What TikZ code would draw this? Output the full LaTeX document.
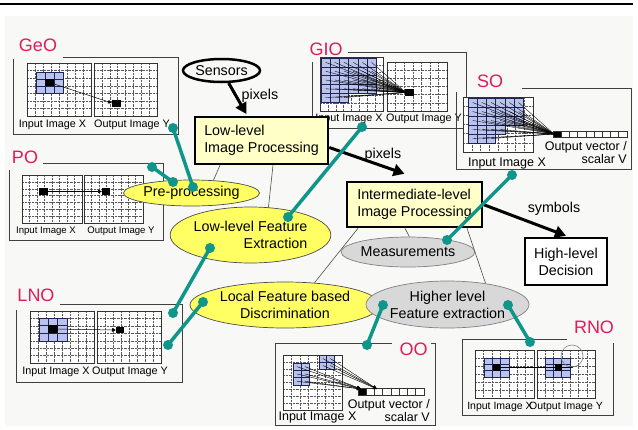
\documentclass[tikz,border=0pt]{standalone}
\usepackage{fontspec}
\setmainfont{Liberation Sans}
\usetikzlibrary{shapes.geometric,arrows.meta}
\definecolor{tealc}{RGB}{15,150,138}
\definecolor{magc}{RGB}{225,25,95}
\definecolor{ylwc}{RGB}{255,255,100}
\definecolor{pylc}{RGB}{255,255,200}
\definecolor{gryc}{RGB}{216,216,216}
\definecolor{bgc}{RGB}{248,248,246}
\definecolor{cellc}{RGB}{185,195,235}
\definecolor{navyc}{RGB}{30,35,90}
\tikzset{
 gline/.style={black!65, line width=0.4pt, densely dotted},
 gframe/.style={black!80, line width=0.6pt},
 frameline/.style={black!75, line width=0.8pt},
 treeline/.style={black!70, line width=0.6pt},
 bigarrow/.style={line width=3pt, -{Triangle[length=11pt,width=12pt]}},
 smallarrow/.style={line width=0.5pt, -{Triangle[length=4pt,width=3.5pt]}},
 conv/.style={line width=0.35pt, black},
 pbox/.style={rectangle, draw, line width=2.5pt, fill=pylc, align=left, inner sep=0pt, font=\fontsize{14.3}{17}\selectfont},
 yell/.style={ellipse, draw=black!70, line width=0.7pt, fill=ylwc, inner sep=0pt, align=center, font=\fontsize{14.3}{17}\selectfont},
 grayell/.style={yell, fill=gryc, draw=black!50},
 lbl/.style={inner sep=0pt, font=\fontsize{14.3}{17}\selectfont},
 smalltxt/.style={inner sep=0pt, font=\fontsize{#1}{#1}\selectfont},
 smalltxt/.default=10.8,
 plabel/.style={inner sep=0pt, text=magc, font=\fontsize{18}{20}\selectfont},
 tline/.style={tealc, line width=3.5pt},
}
\newcommand{\pxgrid}[6]{%
  \fill[white] (#1,#2) rectangle (#3,#4);
  \pgfmathsetmacro\grdx{(#3-#1)/#5}%
  \pgfmathsetmacro\grdy{(#4-#2)/#6}%
  \pgfmathtruncatemacro\grnx{#5-1}%
  \pgfmathtruncatemacro\grny{#6-1}%
  \foreach \k in {1,...,\grnx}{\draw[gline] ({#1+\k*\grdx},#2) -- ({#1+\k*\grdx},#4);}%
  \foreach \k in {1,...,\grny}{\draw[gline] (#1,{#2+\k*\grdy}) -- (#3,{#2+\k*\grdy});}%
  \draw[gframe] (#1,#2) rectangle (#3,#4);
}
\newcommand{\bcell}[4]{\filldraw[fill=cellc, draw=navyc, line width=0.6pt] ({#1},{#2}) rectangle ++(#3,#4);}
\newcommand{\ovec}[5]{%
  \fill[white] (#1,#2) rectangle (#3,#4);
  \pgfmathsetmacro\grdx{(#3-#1)/#5}%
  \pgfmathtruncatemacro\grnx{#5-1}%
  \fill[black] (#1,#2) rectangle ({#1+\grdx},#4);
  \foreach \k in {1,...,\grnx}{\draw[gframe] ({#1+\k*\grdx},#2) -- ({#1+\k*\grdx},#4);}%
  \draw[gframe] (#1,#2) rectangle (#3,#4);
}
\begin{document}
\begin{tikzpicture}[x=1pt,y=-1pt]
\useasboundingbox (0,0) rectangle (638,429);
\fill[white] (0,0) rectangle (638,429);
\fill[bgc] (5,16) rectangle (633,426);
\draw[line width=1.5pt] (0,4) -- (633,4);

% ---------- GeO panel
\node[plabel] (geo) at (38,45) {GeO};
\draw[frameline] (63,57) -- (178,57) -- (178,134) -- (13,134) -- (13,59);
\pxgrid{27}{63}{91}{116}{8}{7}
\pxgrid{94}{63}{157}{116}{8}{7}
\foreach \i in {0,1,2}{\foreach \j in {0,1,2}{\bcell{36+\i*9}{72+\j*7}{9}{7}}}
\fill (45,79) rectangle (54,86);
\fill (112,100) rectangle (121,107);
\draw[smallarrow] (49.5,82.5) -- (112,103);
\node[smalltxt] (geoi) at (52.5,125) {Input Image X};
\node[smalltxt] (geoo) at (132,125) {Output Image Y};

% ---------- PO panel
\node[plabel] (po) at (25,157) {PO};
\draw[frameline] (43,163) -- (163,163) -- (163,240) -- (9,240) -- (9,170);
\pxgrid{22}{175}{82}{223}{8}{7}
\pxgrid{84}{175}{143}{223}{8}{7}
\fill (39,188) rectangle (48,195);
\fill (102,188) rectangle (110,195);
\draw[smallarrow] (43.5,191.5) -- (102,191.5);
\node[smalltxt=9.6] (poi) at (46,231) {Input Image X};
\node[smalltxt=9.6] (poo) at (121,231) {Output Image Y};

% ---------- LNO panel
\node[plabel] (lno) at (36,295) {LNO};
\draw[frameline] (60,304) -- (182,304) -- (182,382) -- (16,382) -- (16,310);
\pxgrid{30}{311}{94}{363}{8}{7}
\pxgrid{97}{311}{161}{363}{8}{7}
\foreach \i in {0,1,2}{\foreach \j in {0,1,2}{\bcell{39+\i*9.3}{318+\j*7.7}{9.3}{7.7}}}
\fill (48,325) rectangle (58,333);
\fill (116,327) rectangle (124,333);
\draw[smallarrow] (53,329) -- (116,330);
\node[smalltxt] (lnoi) at (56,372) {Input Image X};
\node[smalltxt] (lnoo) at (130,372) {Output Image Y};

% ---------- GIO panel
\node[plabel] (gio) at (326,49) {GIO};
\draw[frameline] (348,52) -- (466,52) -- (466,128) -- (312,128) -- (312,62);
\pxgrid{320}{57}{383}{111}{8}{7}
\pxgrid{387}{62}{447}{111}{7}{6}
\foreach \j/\n in {0/6,1/6,2/6,3/6,4/3}{\foreach \i in {1,...,\n}{\bcell{321+(\i-1)*9.2}{58+\j*8.8}{9.2}{8.8}}}
\fill (405,89) rectangle (414,96);
\foreach \j/\n in {0/6,1/6,2/6,3/6,4/3}{\foreach \i in {1,...,\n}{\draw[conv] ({321+(\i-0.5)*9.2},{58+(\j+0.5)*8.8}) -- (406,92.5);}}
\node[smalltxt] (gioi) at (349,119) {Input Image X};
\node[smalltxt] (gioo) at (424,119) {Output Image Y};

% ---------- SO panel
\node[plabel] (so) at (490,81) {SO};
\draw[frameline] (522,88) -- (631,88) -- (631,169) -- (456,169) -- (456,92);
\pxgrid{463}{97}{533}{152}{8}{6}
\foreach \j/\n in {0/6,1/6,2/6,3/4,4/3}{\foreach \i in {1,...,\n}{\bcell{468+(\i-1)*9.2}{98+\j*9}{9.2}{9}}}
\ovec{553}{131}{627}{137}{9}
\foreach \j/\n in {0/6,1/6,2/6,3/4,4/3}{\foreach \i in {1,...,\n}{\draw[conv] ({468+(\i-0.5)*9.2},{98+(\j+0.5)*9}) -- (554,134);}}
\node[smalltxt=12.5, anchor=east] (sov1) at (627,147) {Output vector /};
\node[smalltxt=12.5, anchor=east] (sov2) at (627,159) {scalar V};
\node[smalltxt=12.5] (soi) at (507,163) {Input Image X};

% ---------- OO panel
\node[plabel] (oo) at (413.5,349) {OO};
\draw[frameline] (392,343) -- (275,343) -- (275,425) -- (435,425) -- (435,343) -- (431,343);
\pxgrid{283}{355}{342}{410}{7}{8}
\foreach \i in {0,1}{\foreach \j in {0,1}{\bcell{319+\i*7.5}{355+\j*7}{7.5}{7}}}
\foreach \i in {0,1}{\foreach \j in {0,1,2}{\bcell{293+\i*8}{363+\j*7.3}{8}{7.3}}}
\ovec{358}{388}{424}{395}{8}
\foreach \i in {0,1}{\foreach \j in {0,1}{\draw[smallarrow, line width=0.4pt] ({319+(\i+0.5)*7.5},{355+(\j+0.5)*7}) -- (377,389);}}
\foreach \i in {0,1}{\foreach \j in {0,1,2}{\draw[smallarrow, line width=0.4pt] ({293+(\i+0.5)*8},{363+(\j+0.5)*7.3}) -- (361,389);}}
\node[smalltxt=12.5, anchor=east] (oov1) at (430,405) {Output vector /};
\node[smalltxt=12.5, anchor=east] (oov2) at (430,417) {scalar V};
\node[smalltxt=12.5] (ooi) at (317.5,417) {Input Image X};

% ---------- RNO panel
\node[plabel] (rno) at (594,327) {RNO};
\draw[frameline] (567,339) -- (462,339) -- (462,415) -- (613,415) -- (613,343);
\pxgrid{475}{350}{534}{398}{7}{6}
\pxgrid{537}{350}{595}{398}{7}{6}
\foreach \i in {0,1,2}{\foreach \j in {0,1,2}{\bcell{484+\i*8.3}{358+\j*6.3}{8.3}{6.3}}}
\foreach \i in {0,1,2}{\foreach \j in {0,1,2}{\bcell{545+\i*8.3}{358+\j*6.3}{8.3}{6.3}}}
\fill (493,364) rectangle (500,371);
\fill (555,364) rectangle (562,371);
\draw[black, line width=0.6pt] (496.5,367.5) -- (573,367.5);
\draw[gray, line width=0.6pt] (572,356) circle (11pt);
\node[smalltxt=10.5] (rnoi) at (500,407) {Input Image X};
\node[smalltxt=10.5] (rnoo) at (566,407) {Output Image Y};

% ---------- main nodes
\node[draw, ellipse, line width=2.5pt, minimum width=77pt, minimum height=23pt, inner sep=0pt, font=\fontsize{14.3}{17}\selectfont] (sens) at (221.5,70.5) {Sensors};
\node[pbox, minimum width=133pt, minimum height=47pt] (low) at (261.5,140.5) {Low-level\\Image Processing};
\node[pbox, minimum width=135pt, minimum height=45pt] (inter) at (414.5,204.5) {Intermediate-level\\Image Processing};
\node[pbox, fill=white, align=center, minimum width=82pt, minimum height=47pt] (high) at (566,261.5) {High-level\\Decision};

\node[yell, minimum width=119pt, minimum height=26pt] (pre) at (191.5,193) {Pre-processing};
\node[yell, minimum width=145pt, minimum height=56pt, align=right] (lf) at (250.5,235) {Low-level Feature\\Extraction};
\node[yell, minimum width=190pt, minimum height=46pt] (loc) at (285,305) {Local Feature based\\Discrimination};
\node[grayell, minimum width=130pt, minimum height=30pt] (meas) at (408,252) {Measurements};
\node[grayell, minimum width=141pt, minimum height=47pt] (hi) at (447.5,304.5) {Higher level\\Feature extraction};

% tree lines
\draw[treeline] ([xshift=-41.5pt]low.south) -- (pre.30);
\draw[treeline] ([xshift=11.5pt]low.south) -- (lf.57);
\draw[treeline] ([xshift=-56.5pt]inter.south) -- (loc.37);
\draw[treeline] ([xshift=-9.5pt]inter.south) -- (meas.85);
\draw[treeline] ([xshift=52.5pt]inter.south) -- (hi.29);

% arrows
\draw[bigarrow, shorten >=2pt] (sens) -- (low);
\draw[bigarrow] ([yshift=-7pt]low.east) -- ([xshift=-10pt,yshift=7pt]inter.north);
\draw[bigarrow] (inter.east) -- ([yshift=1pt]high.north);
\node[lbl] (px1) at (260,96) {pixels};
\node[lbl] (px2) at (383,155) {pixels};
\node[lbl] (sym) at (554,209) {symbols};

% teal connectors
\coordinate (a1) at (173,128); \coordinate (b1) at (193,187);
\coordinate (a2) at (152,167); \coordinate (b2) at (173,182);
\coordinate (a3) at (362,127); \coordinate (b3) at (288,217);
\coordinate (a4) at (512,175); \coordinate (b4) at (447,240);
\coordinate (a5) at (210,248); \coordinate (b5) at (173,313);
\coordinate (a6) at (203,302); \coordinate (b6) at (168,345);
\coordinate (a7) at (383,305); \coordinate (b7) at (367,345);
\coordinate (a8) at (508,305); \coordinate (b8) at (530,342);
\foreach \n in {1,...,8}{
  \draw[tline] (a\n) -- (b\n);
  \fill[tealc] (a\n) circle (5pt);
  \fill[tealc] (b\n) circle (5pt);
}
\end{tikzpicture}
\end{document}
